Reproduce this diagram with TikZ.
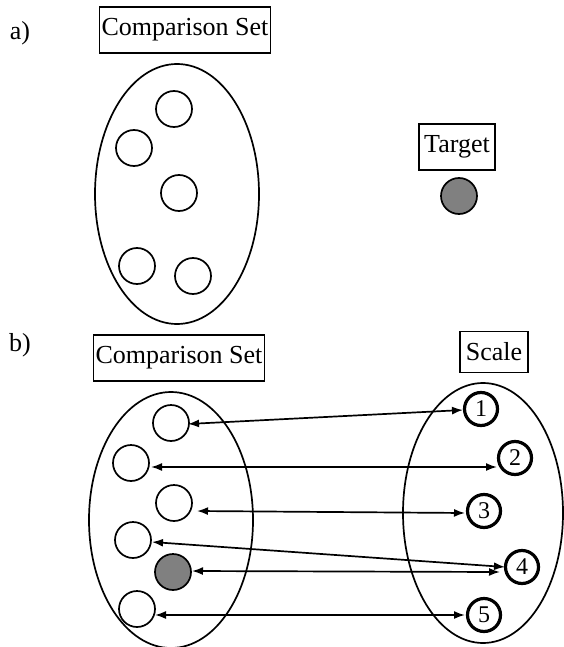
\documentclass[tikz,border=0pt]{standalone}
\usepackage{fontspec}
\setmainfont{Liberation Serif}
\usetikzlibrary{arrows.meta,calc}
\begin{document}
\begin{tikzpicture}[x=1pt,y=-1pt,
  lbl/.style={font=\fontsize{26}{30}\selectfont, inner sep=0},
  titlebox/.style={draw, line width=1.8, font=\fontsize{26}{30}\selectfont, inner xsep=2, inner ysep=4, minimum height=46},
  setell/.style={draw, line width=1.7},
  item/.style={circle, draw, line width=1.7, minimum size=36, inner sep=0},
  scl/.style={circle, draw, line width=3.2, minimum size=33, inner sep=0, font=\fontsize{24}{26}\selectfont},
  arr/.style={line width=1.7, {Latex[length=11,width=8]}-{Latex[length=11,width=8]}}]
\useasboundingbox (0,0) rectangle (563,647);
% ---- part a ----
\node[lbl] (la) at (20,33) {a)};
\node[titlebox] (csa) at (185,30) {Comparison Set};
\draw[setell] (177,194) ellipse [x radius=82, y radius=130];
\node[item] (a1) at (174,109) {};
\node[item] (a2) at (134,148) {};
\node[item] (a3) at (179,193) {};
\node[item] (a4) at (137,266) {};
\node[item] (a5) at (193,276) {};
\node[titlebox, inner xsep=5] (tg) at (457,147) {Target};
\node[item, fill=gray] (tgc) at (459,196) {};
% ---- part b ----
\node[lbl] (lb) at (20,345) {b)};
\node[titlebox] (csb) at (179,358) {Comparison Set};
\node[titlebox, inner xsep=6, minimum height=41] (sc) at (494,352) {Scale};
\draw[setell] (171,520) ellipse [x radius=82, y radius=128];
\draw[setell] (483,513) ellipse [x radius=80, y radius=130];
\node[item] (c1) at (171,423) {};
\node[item] (c2) at (131,463) {};
\node[item] (c3) at (174,503) {};
\node[item] (c4) at (133,540) {};
\node[item, fill=gray] (cg) at (173,572) {};
\node[item] (c6) at (137,609) {};
\node[scl] (s1) at (481,409) {1};
\node[scl] (s2) at (515,458) {2};
\node[scl] (s3) at (484,511) {3};
\node[scl] (s4) at (522,567) {4};
\node[scl] (s5) at (484,615) {5};
\draw[arr] ($(c1)+(17,1)$) -- ($(s1)+(-18,1)$);
\draw[arr] ($(c2)+(20,4)$) -- ($(s2)+(-18,9)$);
\draw[arr] ($(c3)+(23,8)$) -- ($(s3)+(-19,2)$);
\draw[arr] ($(c4)+(19,2)$) -- ($(s4)+(-17,0)$);
\draw[arr] ($(cg)+(19,-1)$) -- ($(s4)+(-22,5)$);
\draw[arr] ($(c6)+(18,6)$) -- ($(s5)+(-19,0)$);
\end{tikzpicture}
\end{document}
